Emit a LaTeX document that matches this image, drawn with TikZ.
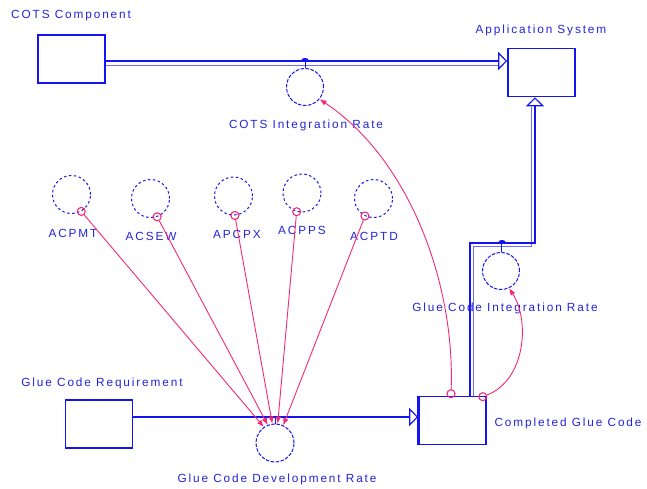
\documentclass[tikz,border=0pt]{standalone}
\usepackage{fontspec}
\setmainfont{Liberation Sans}
\newfontfamily\labfont[LetterSpace=16]{Liberation Sans}
\usetikzlibrary{arrows.meta,calc}
\definecolor{sdblue}{RGB}{20,20,240}
\definecolor{sdthin}{RGB}{110,110,250}
\definecolor{sdtext}{RGB}{35,35,220}
\definecolor{sdred}{RGB}{245,40,120}
\begin{document}
\begin{tikzpicture}[x=1pt,y=-1pt,
  stock/.style={draw=sdblue, line width=1.6pt, minimum width=67pt, minimum height=48pt, inner sep=0pt},
  ratec/.style={circle, draw=sdblue, line width=1pt, dash pattern=on 3.5pt off 1.5pt, minimum size=37pt, inner sep=0pt},
  auxc/.style={circle, draw=sdblue, line width=1pt, dash pattern=on 2.5pt off 2.5pt, minimum size=38pt, inner sep=0pt},
  lbl/.style={text=sdtext, font=\labfont\fontsize{11.8}{12}\selectfont, inner sep=0pt},
  link/.style={draw=sdred, line width=0.9pt, -{Latex[length=7pt,width=5.5pt]}},
  linkstart/.style={circle, draw=sdred, line width=1.1pt, minimum size=8pt, inner sep=0pt},
  pipeT/.style={draw=sdblue, line width=2.8pt},
  pipet/.style={draw=sdthin, line width=1pt},
  flowtip/.style={-{Triangle[open,length=9pt,width=18pt,line width=1.2pt,fill=white]}},
  valvemark/.style={fill=sdblue}
]
\useasboundingbox (0,0) rectangle (647,489);

% stocks
\node[stock] (cotsC) at (71.5,59) {};
\node[stock] (appS) at (541.5,72.5) {};
\node[stock] (gcr) at (99,424) {};
\node[stock] (cgc) at (452.5,420.5) {};
\draw[sdblue, line width=3pt] (cgc.north west) -- (cgc.south west);

% rates
\node[ratec] (cir) at (305,87) {};
\node[ratec] (gir) at (501,271) {};
\node[ratec, minimum size=38pt] (gdr) at (275,443) {};

% auxiliaries
\node[auxc] (acpmt) at (71.5,194.5) {};
\node[auxc] (acsew) at (150.5,198.5) {};
\node[auxc] (apcpx) at (233.5,196) {};
\node[auxc] (acpps) at (302,193) {};
\node[auxc] (acptd) at (373.5,198.5) {};

% labels
\node[lbl, anchor=west] (lcots) at (11,16) {COTS Component};
\node[lbl] (lapp) at (541,30) {Application System};
\node[lbl] (lcir) at (306,125) {COTS Integration Rate};
\node[lbl] (lacpmt) at (73,233) {ACPMT};
\node[lbl] (lacsew) at (151,236) {ACSEW};
\node[lbl] (lapcpx) at (237,234) {APCPX};
\node[lbl] (lacpps) at (302,230) {ACPPS};
\node[lbl] (lacptd) at (374,236) {ACPTD};
\node[lbl] (lgir) at (505,308) {Glue Code Integration Rate};
\node[lbl] (lcgc) at (568,423) {Completed Glue Code};
\node[lbl] (lgcr) at (102,383) {Glue Code Requirement};
\node[lbl] (lgdr) at (277,479) {Glue Code Development Rate};

% COTS pipe
\coordinate (cp) at ([yshift=-2pt]cotsC.east);
\draw[pipet] ($(cp)+(0,4.5)$) -- ($(cp -| appS.west)+(-9,4.5)$);
\draw[pipeT, flowtip] (cp) -- (cp -| appS.west);
\draw[sdblue, line width=1pt] (cir.north) -- ($(cir.north)+(0,-7)$);
\fill[valvemark] ($(cir.north)+(0,-8)$) ellipse (3.5 and 2);

% Glue code development pipe
\coordinate (gp) at ([yshift=7pt]gcr.east);
\draw[draw=sdblue, line width=2.4pt, flowtip] (gp) -- (gp -| cgc.west);
\draw[sdblue, line width=1pt] (gdr.north) -- ($(gdr.north)+(0,-7)$);

% Integration pipe
\coordinate (vstart) at ([xshift=17.5pt]cgc.north);
\coordinate (vend) at ([xshift=-6.5pt]appS.south);
\coordinate (gvalve) at (503,243);
\draw[pipet] ($(vstart)+(3.8,0)$) |- ($(gvalve)+(0,3.8)$) -| ($(vend)+(-3.8,10)$);
\draw[pipeT, flowtip] (vstart) -- (vstart |- gvalve) -| (vend);
\draw[sdblue, line width=1pt] (gir.north) -- ($(gir.north)+(0,-9)$);
\fill[valvemark] ($(gir.north)+(1,-10)$) ellipse (3.5 and 2);

% links from auxiliaries
\node[linkstart] (s1) at (acpmt.-60) {};
\node[linkstart] (s2) at (acsew.-70) {};
\node[linkstart] (s3) at (apcpx.-86) {};
\node[linkstart] (s4) at (acpps.-106) {};
\node[linkstart] (s5) at (acptd.-116) {};
\draw[link] (s1) -- (gdr.125);
\draw[link] (s2) -- (gdr.112);
\draw[link] (s3) -- (gdr.98);
\draw[link] (s4) -- (gdr.82);
\draw[link] (s5) -- (gdr.65);

% links from completed glue code
\node[linkstart] (s6) at ([xshift=-1.5pt,yshift=2pt]cgc.north) {};
\node[linkstart] (s7) at ([xshift=-4pt,yshift=-1pt]cgc.north east) {};
\draw[link] (s6) .. controls +(4,-110) and +(90,60) .. (cir.-40);
\draw[link] (s7) .. controls +(43,-17) and +(21,32) .. (gir.-65);
\end{tikzpicture}
\end{document}
